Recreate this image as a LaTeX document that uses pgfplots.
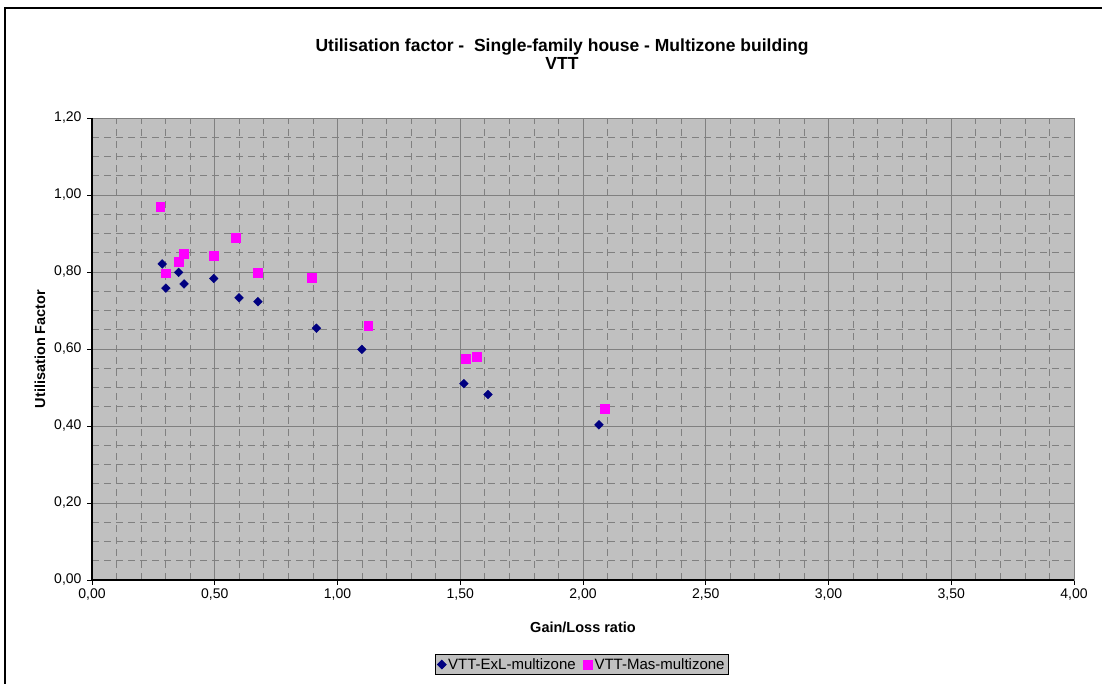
\documentclass[border=0pt]{standalone}
\usepackage{pgfplots}
\pgfplotsset{compat=1.18}
\usepackage{fontspec}
\setmainfont{Liberation Sans}
\definecolor{navy}{RGB}{0,0,128}
\definecolor{plotgray}{RGB}{192,192,192}
\definecolor{gridgray}{RGB}{128,128,128}
\definecolor{mag}{RGB}{255,0,255}
\begin{document}
\begin{tikzpicture}[x=1pt,y=1pt]
\path[use as bounding box] (0,0) rectangle (1102,684);
\draw[line width=2pt] (5,-5) -- (5,676) -- (1110,676);
\node[font=\bfseries\fontsize{17.5}{18.5}\selectfont, align=center] at (562,630)
  {Utilisation factor -\ \ Single-family house - Multizone building\\VTT};
\begin{axis}[
  at={(92pt,104pt)}, anchor=south west,
  width=982pt, height=462pt, scale only axis,
  xmin=0, xmax=4, ymin=0, ymax=1.2,
  xtick={0,0.5,1,1.5,2,2.5,3,3.5,4},
  ytick={0,0.2,0.4,0.6,0.8,1.0,1.2},
  minor x tick num=4, minor y tick num=3,
  grid=both,
  major grid style={gridgray, line width=0.8pt},
  minor grid style={gridgray, line width=0.8pt, dash pattern=on 7pt off 5pt},
  axis background/.style={fill=plotgray},
  axis line style={draw=gridgray, line width=0.8pt},
  tick align=outside, xtick pos=bottom, ytick pos=left,
  major tick length=5pt, minor tick length=0pt,
  tick style={black, line width=0.8pt},
  ticklabel style={font=\fontsize{14}{16}\selectfont},
  yticklabel style={xshift=-2pt},
  /pgf/number format/.cd, fixed, fixed zerofill, precision=2, use comma, assume math mode=true,
  /pgfplots/.cd,
  xlabel={Gain/Loss ratio},
  ylabel={Utilisation Factor},
  every axis x label/.style={at={(axis description cs:0.5,-0.1017)}, anchor=center,
    font=\bfseries\fontsize{14.5}{16}\selectfont},
  every axis y label/.style={at={(axis description cs:-0.053,0.5)}, anchor=center, rotate=90,
    font=\bfseries\fontsize{14.5}{16}\selectfont},
  legend style={at={(0.499,-0.183)}, anchor=center, legend columns=2,
    fill=plotgray, draw=black, line width=0.8pt, font=\fontsize{15}{17}\selectfont,
    inner sep=2pt,
    /tikz/every even column/.append style={column sep=6pt}},
  legend cell align=left,
  after end axis/.code={
    \draw[black, line width=1.2pt] (rel axis cs:0,1) -- (rel axis cs:0,0) -- (rel axis cs:1,0);
  },
]
\addplot[only marks, mark=square*, mark size=3.1pt, mark options={rotate=45}, color=navy] coordinates {
  (0.286,0.821) (0.353,0.799) (0.301,0.758) (0.375,0.769) (0.496,0.783)
  (0.599,0.733) (0.676,0.723) (0.914,0.654) (1.099,0.599) (1.515,0.510)
  (1.613,0.482) (2.065,0.403)
};
\addlegendentry{VTT-ExL-multizone}
\addplot[only marks, mark=square*, mark size=4.4pt, color=mag] coordinates {
  (0.278,0.969) (0.585,0.889) (0.372,0.847) (0.354,0.827) (0.497,0.843)
  (0.300,0.797) (0.676,0.799) (0.895,0.786) (1.125,0.661) (1.521,0.574)
  (1.567,0.579) (2.087,0.445)
};
\addlegendentry{VTT-Mas-multizone}
\end{axis}
\end{tikzpicture}
\end{document}
